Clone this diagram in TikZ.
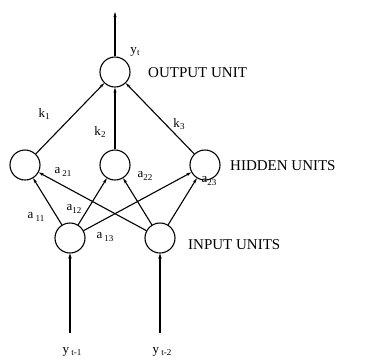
\documentclass[tikz,border=0pt]{standalone}
\usepackage{fontspec}
\setmainfont{Liberation Serif}
\usetikzlibrary{arrows.meta}
\begin{document}
\begin{tikzpicture}[x=1pt,y=-1pt,
  unit/.style={circle,draw,line width=1.1pt,minimum size=30pt,inner sep=0pt},
  conn/.style={line width=1.1pt,-{Stealth[length=5pt,width=3pt]}},
  inconn/.style={line width=1.8pt,-{Stealth[length=5pt,width=3.5pt]}},
  lbl/.style={font=\fontsize{15}{15}\selectfont,anchor=west,inner sep=0pt},
  wt/.style={font=\fontsize{13}{13}\selectfont,inner sep=0pt}]
\useasboundingbox (0,0) rectangle (368,360);
\node[unit] (o) at (115,72) {};
\node[unit] (h1) at (25,165) {};
\node[unit] (h2) at (115,165) {};
\node[unit] (h3) at (205,165) {};
\node[unit] (i1) at (70,238) {};
\node[unit] (i2) at (160,238) {};
\coordinate (top) at (115,12);
\coordinate (b1) at (70,333);
\coordinate (b2) at (160,333);
\draw[conn] (o) -- (top);
\draw[conn] (h1) -- (o);
\draw[conn] (h2) -- (o);
\draw[conn] (h3) -- (o);
\draw[conn] (i1) -- (h1);
\draw[conn] (i1) -- (h2);
\draw[conn] (i1) -- (h3);
\draw[conn] (i2) -- (h1);
\draw[conn] (i2) -- (h2);
\draw[conn] (i2) -- (h3);
\draw[inconn] (b1) -- (i1);
\draw[inconn] (b2) -- (i2);
\node[lbl] (lo) at (148,73) {OUTPUT UNIT};
\node[lbl] (lh) at (230,166) {HIDDEN UNITS};
\node[lbl] (li) at (188,245) {INPUT UNITS};
\node[wt] (yt) at (135,52) {y\raisebox{-0.35ex}{\small t}};
\node[wt] (y1) at (72,352) {y\,\raisebox{-0.4ex}{\small t-1}};
\node[wt] (y2) at (162,352) {y\,\raisebox{-0.4ex}{\small t-2}};
\node[wt] (k1) at (44,114) {k\raisebox{-0.4ex}{\small 1}};
\node[wt] (k2) at (100,132) {k\raisebox{-0.4ex}{\small 2}};
\node[wt] (k3) at (179,124) {k\raisebox{-0.4ex}{\small 3}};
\node[wt] (a21) at (63,172) {a\,\raisebox{-0.5ex}{\small 21}};
\node[wt] (a22) at (145,176) {a\raisebox{-0.5ex}{\small 22}};
\node[wt] (a23) at (209,181) {a\raisebox{-0.6ex}{\small 23}};
\node[wt] (a11) at (36,217) {a\,\raisebox{-0.5ex}{\small 11}};
\node[wt] (a12) at (74,209) {a\raisebox{-0.6ex}{\small 12}};
\node[wt] (a13) at (105,237) {a\,\raisebox{-0.4ex}{\small 13}};
\end{tikzpicture}
\end{document}
